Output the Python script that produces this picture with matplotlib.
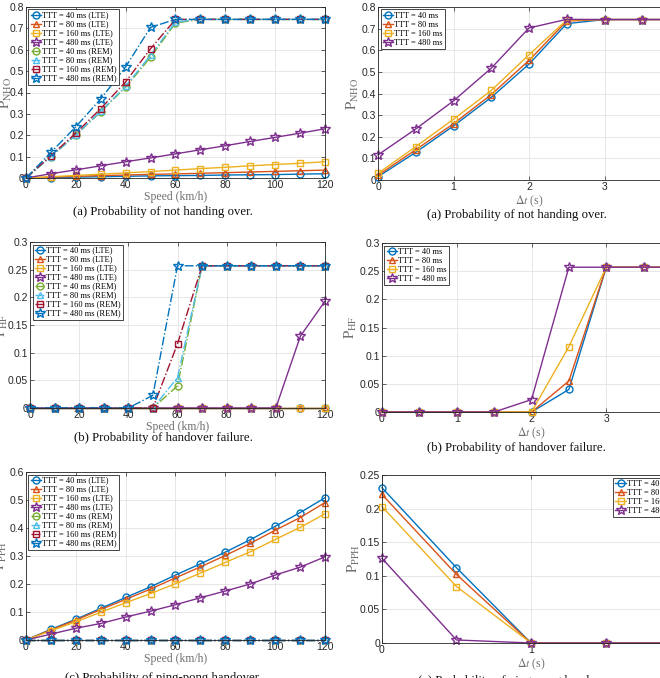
import numpy as np
import matplotlib
matplotlib.use("Agg")
import matplotlib.pyplot as plt

plt.rcParams['mathtext.fontset'] = 'stix'
plt.rcParams['font.family'] = ['Liberation Sans', 'DejaVu Sans']

# ---- data -------------------------------------------------------------
speed = [0, 10, 20, 30, 40, 50, 60, 70, 80, 90, 100, 110, 120]
dt = [0, 0.5, 1, 1.5, 2, 2.5, 3, 3.5, 4]
dt_pph = [0, 0.5, 1, 1.5, 2]

labels_speed = ["TTT = 40 ms (LTE)", "TTT = 80 ms (LTE)", "TTT = 160 ms (LTE)",
                "TTT = 480 ms (LTE)", "TTT = 40 ms (REM)", "TTT = 80 ms (REM)",
                "TTT = 160 ms (REM)", "TTT = 480 ms (REM)"]
labels_dt = ["TTT = 40 ms", "TTT = 80 ms", "TTT = 160 ms", "TTT = 480 ms"]

# P_NHO vs speed
nho_speed = [
    [0, 0.002, 0.004, 0.006, 0.008, 0.010, 0.011, 0.012, 0.014, 0.015, 0.016, 0.018, 0.020],
    [0, 0.004, 0.008, 0.011, 0.014, 0.017, 0.019, 0.022, 0.025, 0.028, 0.031, 0.034, 0.037],
    [0, 0.006, 0.012, 0.018, 0.024, 0.030, 0.037, 0.044, 0.050, 0.057, 0.063, 0.069, 0.076],
    [0, 0.020, 0.038, 0.057, 0.076, 0.094, 0.113, 0.132, 0.151, 0.171, 0.190, 0.210, 0.230],
    [0, 0.100, 0.200, 0.310, 0.425, 0.565, 0.725, 0.742, 0.742, 0.742, 0.742, 0.742, 0.742],
    [0, 0.100, 0.202, 0.312, 0.430, 0.575, 0.730, 0.742, 0.742, 0.742, 0.742, 0.742, 0.742],
    [0, 0.105, 0.210, 0.325, 0.450, 0.605, 0.742, 0.742, 0.742, 0.742, 0.742, 0.742, 0.742],
    [0, 0.120, 0.240, 0.370, 0.520, 0.705, 0.742, 0.742, 0.742, 0.742, 0.742, 0.742, 0.742],
]

# P_HF vs speed
hf_speed = [
    [0, 0, 0, 0, 0, 0, 0, 0, 0, 0, 0, 0, 0],
    [0, 0, 0, 0, 0, 0, 0, 0, 0, 0, 0, 0, 0],
    [0, 0, 0, 0, 0, 0, 0, 0, 0, 0, 0, 0, 0],
    [0, 0, 0, 0, 0, 0, 0, 0, 0, 0, 0, 0.130, 0.193],
    [0, 0, 0, 0, 0, 0, 0.040, 0.257, 0.257, 0.257, 0.257, 0.257, 0.257],
    [0, 0, 0, 0, 0, 0, 0.055, 0.257, 0.257, 0.257, 0.257, 0.257, 0.257],
    [0, 0, 0, 0, 0, 0, 0.116, 0.257, 0.257, 0.257, 0.257, 0.257, 0.257],
    [0, 0, 0, 0, 0, 0.023, 0.257, 0.257, 0.257, 0.257, 0.257, 0.257, 0.257],
]

# P_PPH vs speed
pph_speed = [
    [0, 0.038, 0.074, 0.113, 0.152, 0.190, 0.232, 0.272, 0.314, 0.358, 0.406, 0.455, 0.508],
    [0, 0.036, 0.071, 0.109, 0.145, 0.182, 0.222, 0.261, 0.302, 0.345, 0.392, 0.437, 0.491],
    [0, 0.033, 0.065, 0.099, 0.133, 0.166, 0.201, 0.239, 0.277, 0.315, 0.359, 0.402, 0.451],
    [0, 0.021, 0.042, 0.059, 0.082, 0.103, 0.126, 0.151, 0.175, 0.200, 0.232, 0.260, 0.297],
    [0, 0, 0, 0, 0, 0, 0, 0, 0, 0, 0, 0, 0],
    [0, 0, 0, 0, 0, 0, 0, 0, 0, 0, 0, 0, 0],
    [0, 0, 0, 0, 0, 0, 0, 0, 0, 0, 0, 0, 0],
    [0, 0, 0, 0, 0, 0, 0, 0, 0, 0, 0, 0, 0],
]

# P_NHO vs delta t
nho_dt = [
    [0.015, 0.128, 0.250, 0.382, 0.536, 0.723, 0.742, 0.742, 0.742],
    [0.022, 0.140, 0.260, 0.395, 0.553, 0.735, 0.742, 0.742, 0.742],
    [0.031, 0.154, 0.281, 0.414, 0.579, 0.740, 0.742, 0.742, 0.742],
    [0.116, 0.236, 0.366, 0.517, 0.703, 0.743, 0.742, 0.742, 0.742],
]

# P_HF vs delta t
hf_dt = [
    [0, 0, 0, 0, 0, 0.040, 0.257, 0.257, 0.257],
    [0, 0, 0, 0, 0, 0.055, 0.257, 0.257, 0.257],
    [0, 0, 0, 0, 0, 0.116, 0.257, 0.257, 0.257],
    [0, 0, 0, 0, 0.022, 0.257, 0.257, 0.257, 0.257],
]

# P_PPH vs delta t
pph_dt = [
    [0.231, 0.112, 0, 0, 0],
    [0.221, 0.102, 0, 0, 0],
    [0.203, 0.084, 0, 0, 0],
    [0.126, 0.0045, 0, 0, 0],
]

colors = ["#0072BD", "#D95319", "#EDB120", "#7E2F8E",
          "#77AC30", "#4DBEEE", "#A2142F", "#0072BD"]
markers = ["o", "^", "s", "*", "o", "^", "s", "*"]
styles = ["-", "-", "-", "-", "-.", "-.", "-.", "-."]
msizes = {"o": 5.0, "^": 5.0, "s": 4.6, "*": 7.0}

serif = ['Liberation Serif', 'DejaVu Serif']
label_gray = "#707070"
tick_gray = "#262626"


def draw_panel(fig, rect, x, series, labels, xlim, xticks, ylim, yticks,
               ylabel, xlabel, legend_loc, ylabel_x):
    ax = fig.add_axes(rect)
    for idx, y in enumerate(series):
        ax.plot(x, y, linestyle=styles[idx], color=colors[idx], marker=markers[idx],
                markersize=msizes[markers[idx]], markerfacecolor="none",
                markeredgewidth=1.0, linewidth=1.0, clip_on=False, label=labels[idx])
    ax.set_xlim(xlim)
    ax.set_ylim(ylim)
    ax.set_xticks(xticks)
    ax.set_yticks(yticks)
    ax.set_yticklabels(["0" if v == 0 else "{:g}".format(v) for v in yticks])
    ax.grid(True, color="#e3e3e3", linewidth=0.6)
    ax.set_axisbelow(True)
    ax.tick_params(axis="both", direction="in", length=3, width=0.5, labelsize=7.5,
                   colors=tick_gray, top=True, right=True, pad=1.5)
    for sp in ax.spines.values():
        sp.set_linewidth(0.6)
        sp.set_color(tick_gray)
    ax.set_xlabel(xlabel, fontsize=8.5, color=label_gray, family=serif, labelpad=1)
    ax.set_ylabel(ylabel, fontsize=10.5, color=label_gray)
    # ylabel sits right against the tick labels, as in the page
    w = rect[2] * W
    ax.yaxis.set_label_coords((ylabel_x - rect[0] * W) / w, 0.5)
    leg = ax.legend(loc=legend_loc, prop={"family": serif, "size": 6},
                    handlelength=1.3, handletextpad=0.1, labelspacing=0.12,
                    borderpad=0.25, borderaxespad=0.3, fancybox=False,
                    framealpha=1)
    leg.get_frame().set_edgecolor("#262626")
    leg.get_frame().set_linewidth(0.6)
    return ax


fig = plt.figure(figsize=(6.6, 6.78), dpi=100)
W, H = 660.0, 678.0


def rect(x0, x1, ytop, ybot):
    return [x0 / W, 1 - ybot / H, (x1 - x0) / W, (ybot - ytop) / H]


draw_panel(fig, rect(26, 325, 7, 178), speed, nho_speed, labels_speed,
           (0, 120), range(0, 121, 20), (0, 0.8), np.round(np.arange(0, 0.81, 0.1), 2),
           r"$\mathrm{P}_{\mathrm{NHO}}$", "Speed (km/h)", "upper left", 14)
draw_panel(fig, rect(378, 680, 7, 180), dt, nho_dt, labels_dt,
           (0, 4), range(0, 5), (0, 0.8), np.round(np.arange(0, 0.81, 0.1), 2),
           r"$\mathrm{P}_{\mathrm{NHO}}$", r"$\Delta t$ (s)", "upper left", 361)
draw_panel(fig, rect(30, 325, 242, 408), speed, hf_speed, labels_speed,
           (0, 120), range(0, 121, 20), (0, 0.3), np.round(np.arange(0, 0.301, 0.05), 2),
           r"$\mathrm{P}_{\mathrm{HF}}$", "Speed (km/h)", "upper left", 10)
draw_panel(fig, rect(382, 681, 243, 412), dt, hf_dt, labels_dt,
           (0, 4), range(0, 5), (0, 0.3), np.round(np.arange(0, 0.301, 0.05), 2),
           r"$\mathrm{P}_{\mathrm{HF}}$", r"$\Delta t$ (s)", "upper left", 359)
draw_panel(fig, rect(26, 325, 472, 640), speed, pph_speed, labels_speed,
           (0, 120), range(0, 121, 20), (0, 0.6), np.round(np.arange(0, 0.61, 0.1), 2),
           r"$\mathrm{P}_{\mathrm{PPH}}$", "Speed (km/h)", "upper left", 9)
draw_panel(fig, rect(382, 680, 475, 643), dt_pph, pph_dt, labels_dt,
           (0, 2), range(0, 3), (0, 0.25), np.round(np.arange(0, 0.251, 0.05), 2),
           r"$\mathrm{P}_{\mathrm{PPH}}$", r"$\Delta t$ (s)", "upper right", 362)

captions = [
    (163, 212, "(a) Probability of not handing over."),
    (517, 215, "(a) Probability of not handing over."),
    (163, 438, "(b) Probability of handover failure."),
    (516, 448, "(b) Probability of handover failure."),
    (163, 678, "(c) Probability of ping-pong handover."),
    (516, 681, "(c) Probability of ping-pong handover."),
]
for cx, cy, txt in captions:
    fig.text(cx / W, 1 - cy / H, txt, ha="center", va="center",
             fontsize=9.2, family=serif, color="#111111")

fig.savefig("out.png", dpi=100)
